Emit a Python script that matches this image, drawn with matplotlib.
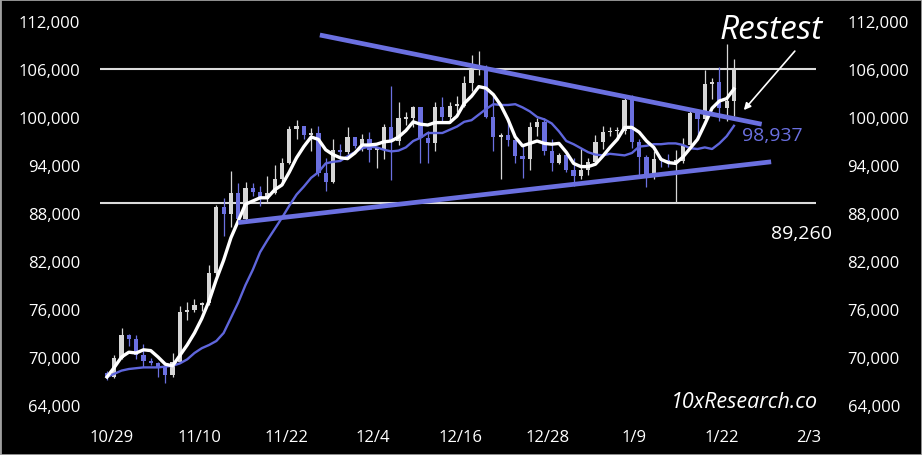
import numpy as np
import matplotlib
matplotlib.use("Agg")
import matplotlib.pyplot as plt
from matplotlib.patches import Rectangle
from matplotlib.ticker import FuncFormatter

# daily candles, Oct 27 -> Jan 21 (thousand USD)
opens = [68.0, 67.5, 69.9, 72.7, 72.3, 70.2, 69.5, 69.3, 68.7, 67.8,
         69.4, 75.6, 75.9, 76.5, 76.7, 80.5, 88.7, 87.9, 90.5, 87.3,
         91.1, 90.6, 89.8, 90.5, 92.3, 94.3, 98.5, 98.9, 97.7, 98.0,
         93.0, 91.9, 95.9, 95.6, 97.5, 96.4, 97.2, 95.9, 96.0, 98.8,
         97.0, 99.8, 99.9, 101.2, 97.4, 96.7, 101.2, 100.0, 101.4, 101.4,
         104.3, 106.0, 106.1, 100.0, 97.5, 97.8, 97.1, 95.1, 94.7, 98.7,
         99.4, 95.8, 94.2, 95.2, 93.4, 92.6, 93.4, 94.4, 96.9, 98.1,
         98.2, 98.3, 102.1, 96.9, 95.0, 92.5, 94.7, 94.6, 94.4, 94.5,
         96.5, 100.5, 99.8, 104.1, 104.4, 101.1, 102.0]
highs = [68.3, 70.3, 73.6, 72.9, 72.7, 71.6, 69.9, 69.4, 68.9, 70.5,
         76.4, 76.9, 77.2, 76.9, 81.5, 89.0, 89.9, 93.3, 91.8, 91.9,
         91.8, 91.4, 92.6, 94.0, 94.9, 98.9, 99.6, 98.9, 98.6, 98.9,
         94.9, 97.2, 96.6, 98.7, 97.5, 97.9, 98.1, 96.3, 99.1, 103.9,
         101.9, 100.6, 101.4, 101.2, 98.3, 101.9, 102.5, 101.9, 102.6, 105.1,
         107.8, 108.3, 106.5, 102.8, 98.0, 99.5, 97.3, 96.4, 99.4, 99.9,
         99.9, 97.3, 95.5, 95.2, 94.9, 96.1, 94.9, 97.8, 98.9, 98.7,
         98.8, 102.5, 102.7, 97.3, 95.3, 95.8, 95.0, 95.4, 95.9, 97.4,
         100.7, 100.8, 105.9, 104.9, 106.3, 109.1, 107.2]
lows = [67.1, 67.4, 69.7, 71.4, 69.7, 68.8, 69.0, 67.5, 66.8, 67.5,
        69.3, 74.6, 75.6, 75.7, 76.5, 80.2, 85.1, 86.2, 86.7, 87.1,
        90.1, 88.9, 89.4, 90.4, 91.5, 94.1, 97.2, 97.2, 95.8, 92.6,
        90.8, 91.8, 94.7, 95.4, 96.1, 95.7, 94.4, 93.6, 94.7, 92.1,
        96.5, 99.0, 98.7, 94.2, 94.3, 95.7, 99.3, 99.2, 100.6, 101.2,
        103.3, 105.3, 99.9, 95.7, 92.2, 96.4, 94.3, 92.4, 93.4, 97.6,
        95.2, 93.3, 94.1, 93.1, 91.4, 92.2, 92.8, 94.2, 96.0, 97.6,
        97.3, 97.9, 96.1, 92.5, 91.2, 92.2, 93.8, 93.7, 89.3, 94.3,
        96.5, 97.3, 99.8, 102.3, 99.5, 99.5, 100.1]
closes = [67.5, 69.9, 72.7, 72.3, 70.2, 69.5, 69.3, 68.7, 67.8, 69.4,
          75.6, 75.9, 76.5, 76.7, 80.5, 88.7, 87.9, 90.5, 87.3, 91.1,
          90.6, 89.8, 90.5, 92.3, 94.3, 98.5, 98.9, 97.7, 98.0, 93.0,
          91.9, 95.9, 95.6, 97.5, 96.4, 97.2, 95.9, 96.0, 98.8, 97.0,
          99.9, 99.9, 101.2, 97.4, 96.7, 101.2, 100.0, 101.4, 101.5, 104.3,
          106.0, 106.1, 100.0, 97.5, 97.8, 97.1, 95.1, 94.7, 98.7, 99.4,
          95.8, 94.2, 95.2, 93.4, 92.6, 93.4, 94.4, 96.9, 98.1, 98.2,
          98.3, 102.1, 96.9, 95.0, 92.5, 94.7, 94.6, 94.5, 94.5, 96.5,
          100.5, 99.8, 104.1, 104.4, 101.1, 102.0, 106.1]

# moving averages
ma_fast = [67.5, 68.7, 70.0, 70.6, 70.5, 70.9, 70.8, 70.0, 69.1, 68.9,
           70.2, 71.5, 73.0, 74.8, 77.0, 79.7, 82.1, 84.9, 87.0, 89.1,
           89.5, 89.9, 89.9, 90.9, 91.5, 93.1, 94.9, 96.3, 97.5, 97.2,
           95.9, 95.3, 94.9, 94.8, 95.5, 96.5, 96.5, 96.6, 96.9, 97.0,
           97.5, 98.3, 99.4, 99.1, 99.0, 99.3, 99.3, 99.3, 100.1, 101.7,
           102.6, 103.8, 103.6, 102.8, 101.5, 99.7, 97.5, 96.4, 96.7, 97.0,
           96.7, 96.6, 96.7, 95.6, 94.2, 93.8, 93.8, 94.1, 95.1, 96.2,
           97.2, 98.7, 98.7, 98.1, 97.0, 96.2, 94.7, 94.3, 94.2, 95.0,
           96.1, 97.2, 99.1, 101.1, 102.0, 102.3, 103.5]
ma_slow = [67.5, 67.9, 68.3, 68.5, 68.6, 68.7, 68.7, 68.7, 68.8, 68.9,
           69.2, 69.7, 70.5, 71.1, 71.5, 72.0, 73.0, 74.9, 76.8, 79.0,
           80.9, 83.1, 84.6, 86.0, 87.4, 88.9, 90.3, 91.3, 92.4, 93.1,
           94.2, 94.4, 94.5, 95.1, 95.6, 96.1, 96.3, 96.2, 95.9, 95.7,
           95.8, 96.2, 97.0, 97.4, 98.0, 98.0, 98.0, 98.4, 98.8, 99.4,
           99.6, 100.3, 101.0, 101.6, 101.5, 101.5, 101.6, 101.2, 100.7, 100.0,
           99.7, 99.2, 98.2, 97.0, 96.6, 96.1, 95.6, 95.3, 95.2, 95.4,
           95.3, 95.2, 95.5, 96.3, 96.4, 96.6, 96.6, 96.7, 96.7, 96.5,
           96.1, 96.0, 96.2, 96.0, 96.7, 97.6, 98.9]

date_labels = ["10/29", "11/10", "11/22", "12/4", "12/16", "12/28", "1/9", "1/22", "2/3"]
y_ticks = [64000, 70000, 76000, 82000, 88000, 94000, 100000, 106000, 112000]
resistance = 106000
support = 89260
last_ma = "98,937"

# trend lines (day index, price)
upper_trend = ([29.2, 89.8], [110250, 99100])
lower_trend = ([18.0, 91.1], [86800, 94400])

o = np.array(opens) * 1000
h = np.array(highs) * 1000
l = np.array(lows) * 1000
c = np.array(closes) * 1000
x = np.arange(len(c))

WHITE = "#d6d6d6"
BLUE = "#6b70e0"
plt.rcParams["font.family"] = ["Open Sans", "DejaVu Sans"]

fig = plt.figure(figsize=(9.22, 4.56), dpi=100, facecolor="black")
ax = fig.add_axes([90/922, 36/456, 745/922, 410/456], facecolor="black")

up = c >= o
colors = np.where(up, WHITE, BLUE)
ax.vlines(x, l, h, colors=colors, lw=0.9, zorder=2)
body = np.maximum(np.abs(c - o), 180)
ax.bar(x, body, bottom=np.minimum(o, c), width=0.58, color=colors, zorder=3)

ax.hlines([resistance, support], -1, 97.3, colors="#dcdcdc", lw=1.5, zorder=1)

ax.plot(x, np.array(ma_slow) * 1000, color="#5f66dc", lw=1.7, zorder=4)
ax.plot(x, np.array(ma_fast) * 1000, color="white", lw=2.4, zorder=5)

ax.plot(upper_trend[0], upper_trend[1], color=BLUE, lw=3.4, solid_capstyle="butt", zorder=6)
ax.plot(lower_trend[0], lower_trend[1], color=BLUE, lw=3.4, solid_capstyle="butt", zorder=6)

ax.set_xlim(-2.33, 99.86)
ax.set_ylim(62250, 113500)
ax.set_xticks(np.linspace(0.7, 96.2, len(date_labels)))
ax.set_xticklabels(date_labels)
ax.set_yticks(y_ticks)
fmt = FuncFormatter(lambda v, p: f"{v:,.0f}")
ax.yaxis.set_major_formatter(fmt)
ax.tick_params(colors="white", labelsize=12, length=0)
ax.tick_params(axis="y", pad=7)
ax.tick_params(axis="x", pad=7)
for s in ax.spines.values():
    s.set_visible(False)

ax2 = ax.twinx()
ax2.set_ylim(ax.get_ylim())
ax2.set_yticks(y_ticks)
ax2.yaxis.set_major_formatter(fmt)
ax2.tick_params(colors="white", labelsize=12, length=0, pad=9)
for s in ax2.spines.values():
    s.set_visible(False)

ax.text(91.1, 111000, "Restest", color="white", fontsize=24, style="italic",
        ha="center", va="center")
ax.annotate("", xy=(87.1, 100600), xytext=(94.6, 108500),
            arrowprops=dict(arrowstyle="-|>", color="white", lw=1.2, mutation_scale=10))
ax.text(87.1, 97750, last_ma, color="#6b70e0", fontsize=14, ha="left", va="center")
ax.text(95.3, 85500, f"{support:,}", color="white", fontsize=14, ha="center", va="center")
ax.text(87.5, 64500, "10xResearch.co", color="white", fontsize=15.5, style="italic",
        ha="center", va="center")

fig.patches.append(Rectangle((0, 0), 1, 1, transform=fig.transFigure, fill=False,
                             edgecolor="#a0a0a0", lw=2))

fig.savefig("out.png", dpi=100, facecolor="black")
